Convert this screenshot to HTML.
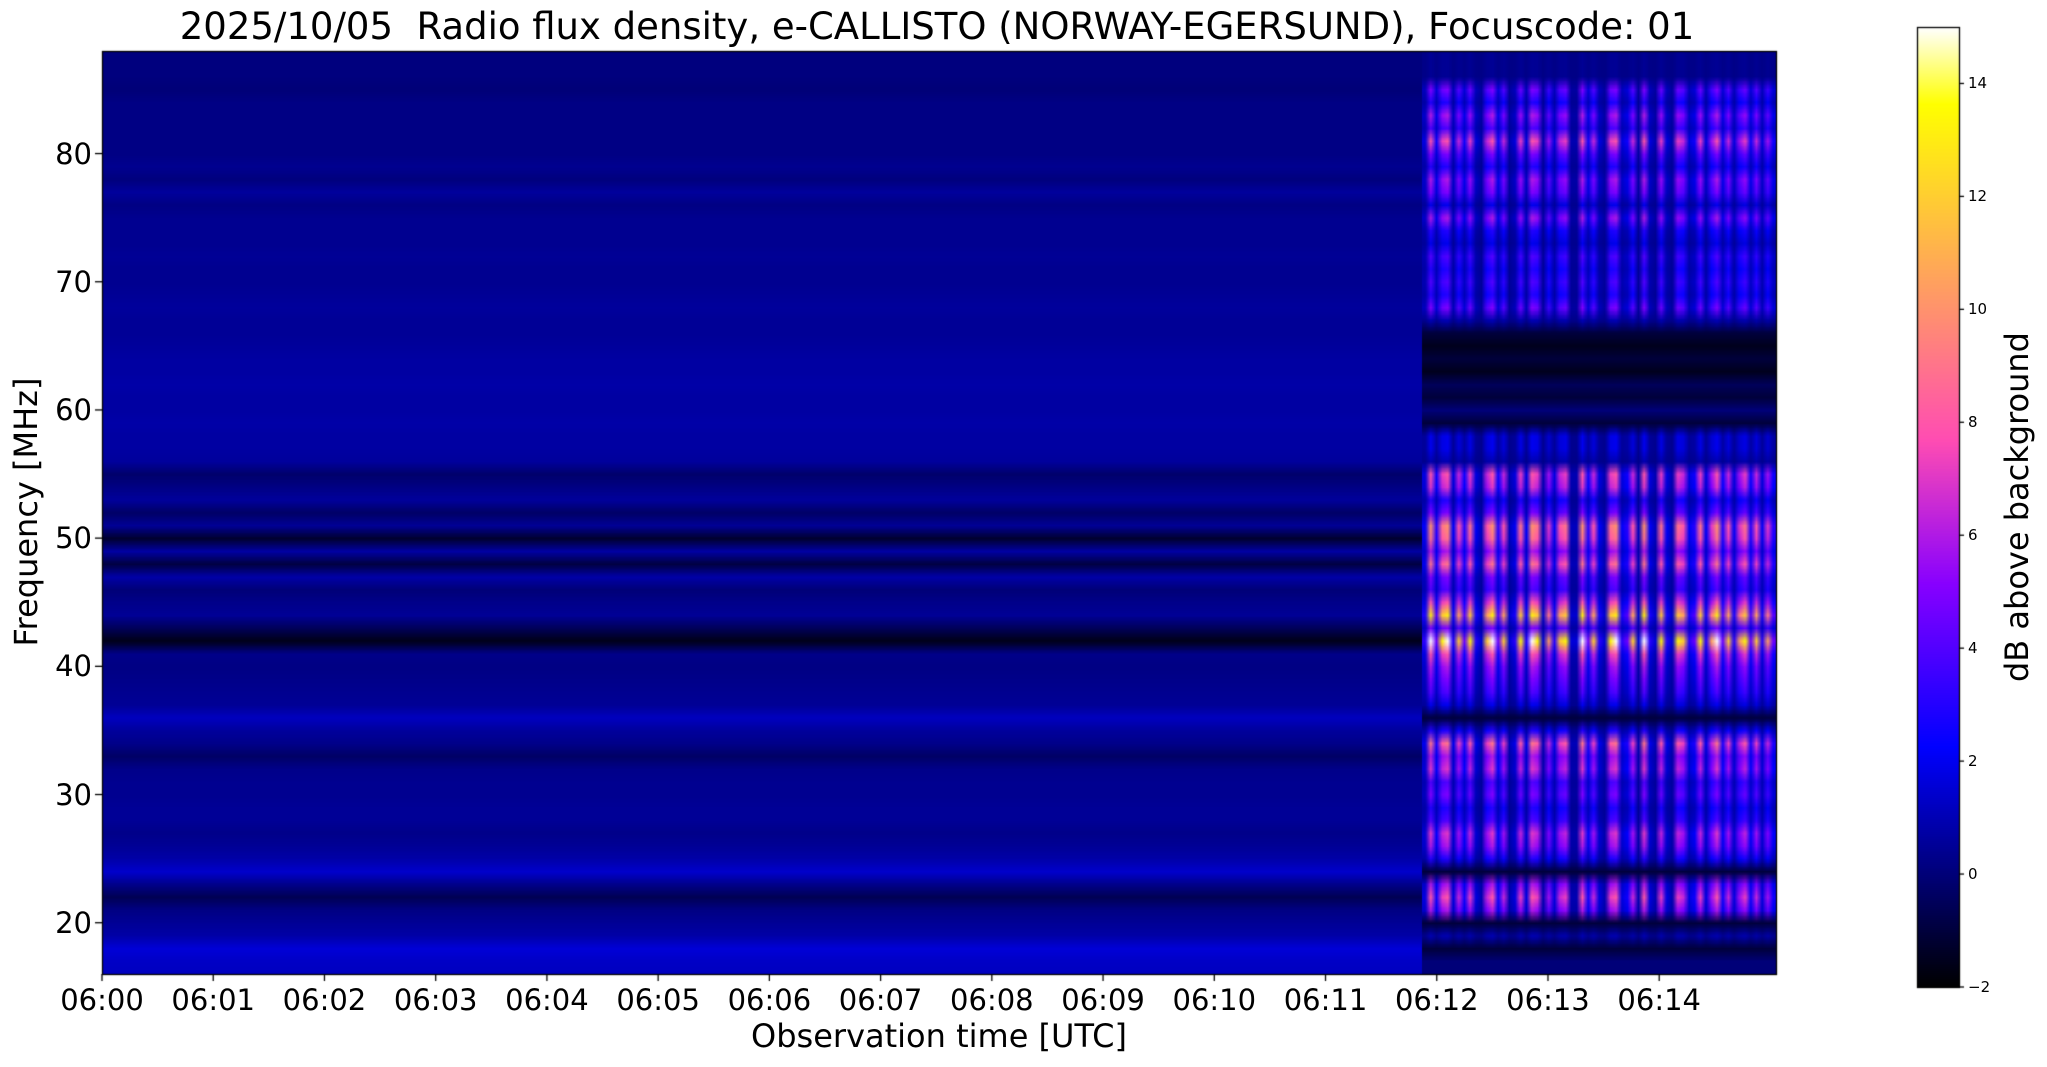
<!DOCTYPE html>
<html><head><meta charset="utf-8">
<style>
html,body{margin:0;padding:0;background:#fff;}
#wrap{position:relative;width:2047px;height:1067px;overflow:hidden;font-family:"DejaVu Sans","Liberation Sans",sans-serif;color:#000;}
.t{position:absolute;white-space:nowrap;}
</style></head>
<body>
<div id="wrap">
<div class="t" style="left:0;width:1874px;top:5px;text-align:center;font-size:37px;">2025/10/05&nbsp; Radio flux density, e-CALLISTO (NORWAY-EGERSUND), Focuscode: 01</div>
<canvas id="cv" width="2047" height="1067" style="position:absolute;left:0;top:0"></canvas>
<div id="labels"></div>
<div class="t" style="left:102px;width:1674px;top:1017px;text-align:center;font-size:32px;">Observation time [UTC]</div>
<div class="t" style="left:26px;top:512px;font-size:32px;transform:translate(-50%,-50%) rotate(-90deg);">Frequency [MHz]</div>
<div class="t" style="left:2017px;top:507px;font-size:32px;transform:translate(-50%,-50%) rotate(-90deg);">dB above background</div>
</div>
<script>
// ---- data ----
const freqMin = 16, freqMax = 88;
const timeMinMinutes = 0, timeMaxMinutes = 15.05;
const xTickLabels = ["06:00","06:01","06:02","06:03","06:04","06:05","06:06","06:07","06:08","06:09","06:10","06:11","06:12","06:13","06:14"];
const yTickValues = [20,30,40,50,60,70,80];
const cbTickValues = [-2,0,2,4,6,8,10,12,14];
const burstStartMinutes = 11.87;
// quiet (pre-burst) dB per 1 MHz row, freq 16..88
const quietProfile = [1.2,1.3,1.6,0.8,0.5,0.2,-0.6,0.3,1.4,0.8,0.5,0.3,0.5,0.5,0.4,0.4,0.3,-0.3,0.3,0.6,1.2,0.5,0.4,0.3,0.2,0.3,-1.6,-0.5,0.5,0.3,0.0,0.8,-0.9,0.7,-1.2,0.5,-0.3,0.6,0.2,-0.2,0.6,0.7,0.7,0.8,0.7,0.7,0.8,0.7,0.7,0.6,0.5,0.5,0.6,0.5,0.4,0.4,0.5,0.4,0.4,0.4,0.2,0.6,0.1,0.4,0.2,0.2,0.2,0.2,0.2,0.0,0.1,0.1,0.1];
// burst peak dB per 1 MHz row, freq 16..88
const burstProfile = [0,0,-1,1,-1,6,8,6,-1,3,6,7,4,3,5,4,7,6,9,3,-1,2,4,5,6,8,15,5,13,8,4,5,9,6,9,10,5,3,7,8,1,2,2,-1,0,-1,-0.5,-1.5,-1,-1.5,-1,1,5,3,4,3,4,2,3,6,2,5,6,3,5,8,4,6,3,5,0.5,0.5,0.5];
// column intensity of burst stripes (left to right)
const burstColumns = [0.2,1,0.3,0.9,1,0.2,0.8,0.3,0.9,0.2,0.1,0.8,1,0.3,0.8,0.1,0.2,0.9,0.2,1,0.9,0.1,0.7,0.2,0.8,0.9,0.1,0.1,1,0.3,0.8,0.2,0.1,0.9,1,0.2,0.3,0.8,0.1,1,0.2,0.1,0.9,0.2,0.1,0.9,0.8,0.2,0.3,0.9,0.2,0.7,1,0.3,0.8,0.2,0.7,0.9,0.3,0.8,0.2,0.7,0.3];

// ---- geometry ----
const L=102,R=1776,T=51,B=974;
const CBL=1917,CBR=1959,CBT=27,CBB=987,cbMin=-2,cbMax=15;
const xs = m => L + (m - timeMinMinutes)/(timeMaxMinutes - timeMinMinutes)*(R-L);
const ys = f => B - (f - freqMin)/(freqMax - freqMin)*(B-T);
const cs = v => CBB - (v - cbMin)/(cbMax - cbMin)*(CBB-CBT);

function cmap(v){
  let x=(v-cbMin)/(cbMax-cbMin); x=Math.max(0,Math.min(1,x));
  let r=x/0.32-0.78125, g=2*x-0.84, b;
  if(x<0.25) b=4*x; else if(x<0.42) b=1; else if(x<0.92) b=-2*x+1.84; else b=x/0.08-11.5;
  const c=t=>Math.round(255*Math.max(0,Math.min(1,t)));
  return [c(r),c(g),c(b)];
}

const cv=document.getElementById('cv'), ctx=cv.getContext('2d');
const nRows=quietProfile.length;
const q=document.createElement('canvas'); q.width=2; q.height=nRows;
const qc=q.getContext('2d'), qd=qc.createImageData(2,nRows);
for(let i=0;i<nRows;i++){const row=nRows-1-i;const c=cmap(quietProfile[i]);for(let k=0;k<2;k++){const o=(row*2+k)*4;qd.data[o]=c[0];qd.data[o+1]=c[1];qd.data[o+2]=c[2];qd.data[o+3]=255;}}
qc.putImageData(qd,0,0);
ctx.imageSmoothingEnabled=true;
const bx=xs(burstStartMinutes);
const halfRow=(B-T)/(nRows-1)/2;
ctx.save();ctx.beginPath();ctx.rect(L,T,R-L,B-T);ctx.clip();
ctx.drawImage(q,0,0,2,nRows,L,ys(freqMax)-halfRow,bx-L,(B-T)+2*halfRow);
const nc=burstColumns.length;
const b=document.createElement('canvas'); b.width=nc; b.height=nRows;
const bc=b.getContext('2d'), bd=bc.createImageData(nc,nRows);
for(let i=0;i<nRows;i++){const row=nRows-1-i;const pk=burstProfile[i];const gap=Math.min(pk,0.2);
  for(let j=0;j<nc;j++){const v=gap+burstColumns[j]*(pk-gap);const c=cmap(v);const o=(row*nc+j)*4;bd.data[o]=c[0];bd.data[o+1]=c[1];bd.data[o+2]=c[2];bd.data[o+3]=255;}}
bc.putImageData(bd,0,0);
ctx.drawImage(b,0,0,nc,nRows,bx,ys(freqMax)-halfRow,R-bx,(B-T)+2*halfRow);
ctx.restore();
ctx.strokeStyle='#000';ctx.lineWidth=1.3;ctx.strokeRect(L+0.5,T+0.5,R-L,B-T);
for(let y=CBT;y<CBB;y++){const v=cbMin+(CBB-y)/(CBB-CBT)*(cbMax-cbMin);const c=cmap(v);ctx.fillStyle=`rgb(${c[0]},${c[1]},${c[2]})`;ctx.fillRect(CBL,y,CBR-CBL,1);}
ctx.strokeRect(CBL+0.5,CBT+0.5,CBR-CBL,CBB-CBT);
const lab=document.getElementById('labels');
function addLabel(txt,name,style){const d=document.createElement('div');d.className='t';d.textContent=txt;
  
  
  d.setAttribute('style', style);lab.appendChild(d);}
ctx.lineWidth=1.3;
xTickLabels.forEach((t,i)=>{const x=xs(i);ctx.beginPath();ctx.moveTo(x,B);ctx.lineTo(x,B+7);ctx.stroke();
  addLabel(t,'x-tick-label',`left:${x}px;top:983px;font-size:29px;transform:translateX(-50%);`);});
yTickValues.forEach(v=>{const y=ys(v);ctx.beginPath();ctx.moveTo(L-7,y);ctx.lineTo(L,y);ctx.stroke();
  addLabel(String(v),'y-tick-label',`right:${2047-92}px;top:${y}px;font-size:29px;transform:translateY(-50%);`);});
cbTickValues.forEach(v=>{const y=cs(v);ctx.beginPath();ctx.moveTo(CBR,y);ctx.lineTo(CBR+5,y);ctx.stroke();
  addLabel(v<0?'\u2212'+(-v):String(v),'colorbar-tick-label',`left:${CBR+9}px;top:${y}px;font-size:15px;transform:translateY(-50%);`);});
</script>
</body></html>
